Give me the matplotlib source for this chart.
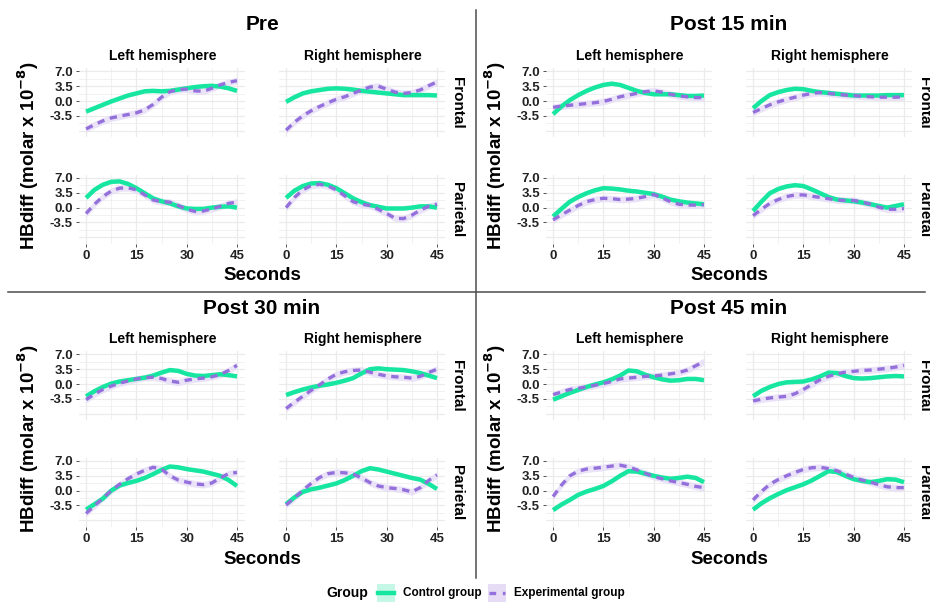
import numpy as np
import matplotlib.pyplot as plt
from matplotlib.lines import Line2D
from matplotlib.patches import Rectangle

plt.rcParams['font.family'] = ['Liberation Sans', 'DejaVu Sans']
plt.rcParams['font.weight'] = 'bold'

# Smoothed HBdiff traces, read every 2.5 s
seconds = [0, 2.5, 5, 7.5, 10, 12.5, 15, 17.5, 20, 22.5,
           25, 27.5, 30, 32.5, 35, 37.5, 40, 42.5, 45]
sessions = ['Pre', 'Post 15 min', 'Post 30 min', 'Post 45 min']
hemispheres = ['Left hemisphere', 'Right hemisphere']
regions = ['Frontal', 'Parietal']
y_ticks = [-3.5, 0.0, 3.5, 7.0]
x_ticks = [0, 15, 30, 45]

# each session: left frontal, right frontal, left parietal, right parietal
pre_control = [
    [-2.5, -1.7, -0.9, -0.1, 0.6, 1.3, 1.8, 2.3, 2.4, 2.3, 2.4, 2.7, 3.0, 3.3, 3.5, 3.6, 3.4, 3.0, 2.4],
    [-0.2, 0.9, 1.8, 2.3, 2.6, 2.9, 3.0, 2.9, 2.7, 2.4, 2.2, 2.0, 1.8, 1.6, 1.4, 1.4, 1.4, 1.4, 1.3],
    [2.3, 4.2, 5.4, 6.1, 6.2, 5.6, 4.6, 3.4, 2.2, 1.5, 1.0, 0.3, -0.2, -0.3, -0.3, 0.0, 0.2, 0.3, 0.0],
    [2.3, 4.0, 5.1, 5.7, 5.8, 5.4, 4.6, 3.4, 2.2, 1.3, 0.6, 0.2, -0.2, -0.2, -0.2, 0.0, 0.3, 0.3, 0.0],
]
pre_experimental = [
    [-6.6, -5.6, -4.7, -4.0, -3.6, -3.2, -2.8, -2.1, -0.8, 0.9, 2.2, 2.7, 2.8, 2.4, 2.3, 3.0, 3.8, 4.4, 4.8],
    [-6.9, -5.0, -3.5, -2.3, -1.3, -0.4, 0.4, 1.0, 1.8, 2.6, 3.3, 3.5, 2.8, 2.1, 1.8, 2.0, 2.6, 3.6, 4.5],
    [-1.4, 0.8, 2.6, 3.9, 4.6, 4.7, 4.2, 3.0, 1.8, 1.4, 1.3, 0.5, -0.4, -0.9, -0.8, -0.3, 0.3, 1.0, 1.3],
    [0.0, 2.4, 4.2, 5.2, 5.5, 5.1, 4.2, 2.8, 1.4, 0.8, 0.5, -0.4, -1.4, -2.5, -2.6, -1.8, -0.6, 0.3, 0.8],
]
post15_control = [
    [-3.1, -1.3, 0.2, 1.4, 2.4, 3.2, 3.8, 4.1, 3.8, 3.1, 2.4, 1.9, 1.6, 1.6, 1.6, 1.4, 1.2, 1.2, 1.3],
    [-1.7, 0.0, 1.4, 2.1, 2.6, 2.9, 2.8, 2.4, 2.1, 1.9, 1.7, 1.5, 1.3, 1.3, 1.3, 1.3, 1.4, 1.4, 1.4],
    [-2.1, -0.3, 1.4, 2.5, 3.4, 4.1, 4.6, 4.5, 4.3, 4.0, 3.8, 3.5, 3.2, 2.6, 1.9, 1.5, 1.2, 1.0, 0.8],
    [-0.8, 1.4, 3.4, 4.4, 5.0, 5.3, 5.1, 4.3, 3.4, 2.5, 1.9, 1.7, 1.5, 1.2, 0.8, 0.4, 0.0, 0.4, 0.8],
]
post15_experimental = [
    [-1.5, -1.2, -1.0, -0.8, -0.6, -0.4, -0.1, 0.4, 1.0, 1.4, 1.8, 2.2, 2.4, 2.1, 1.6, 1.2, 1.0, 0.8, 0.8],
    [-2.7, -1.8, -0.9, -0.2, 0.4, 0.9, 1.4, 1.8, 2.0, 1.8, 1.6, 1.4, 1.3, 1.1, 1.0, 0.9, 0.9, 0.9, 1.0],
    [-2.9, -1.7, -0.6, 0.5, 1.4, 1.9, 2.2, 2.1, 1.9, 2.0, 2.2, 2.6, 3.1, 2.3, 1.4, 0.8, 0.6, 0.6, 0.7],
    [-1.9, -0.4, 1.0, 1.9, 2.6, 3.0, 3.0, 2.7, 2.4, 2.1, 1.8, 1.7, 1.7, 1.3, 0.8, 0.1, -0.4, -0.4, -0.2],
]
post30_control = [
    [-2.9, -1.7, -0.7, 0.1, 0.6, 0.9, 1.2, 1.5, 2.0, 2.7, 3.3, 3.1, 2.4, 2.0, 1.9, 2.1, 2.3, 2.1, 1.8],
    [-2.6, -1.9, -1.3, -0.8, -0.4, -0.1, 0.3, 0.8, 1.4, 2.5, 3.5, 3.7, 3.5, 3.4, 3.3, 3.0, 2.6, 2.0, 1.4],
    [-4.5, -3.2, -1.9, 0.0, 1.2, 1.8, 2.3, 3.0, 3.9, 4.9, 5.7, 5.5, 5.1, 4.8, 4.5, 4.0, 3.5, 2.5, 1.1],
    [-3.2, -1.6, -0.3, 0.3, 0.7, 1.2, 1.7, 2.5, 3.5, 4.6, 5.3, 5.0, 4.5, 4.0, 3.5, 3.0, 2.6, 1.6, 0.4],
]
post30_experimental = [
    [-3.7, -2.4, -1.3, -0.5, 0.2, 0.7, 1.2, 1.5, 1.6, 1.3, 0.7, 0.4, 0.9, 1.2, 1.4, 1.7, 2.2, 3.2, 4.4],
    [-5.8, -4.3, -2.9, -1.5, -0.2, 1.2, 2.3, 2.9, 3.2, 3.3, 2.8, 2.3, 1.9, 1.7, 1.6, 1.4, 1.8, 2.7, 3.5],
    [-5.4, -3.6, -1.8, 0.0, 1.5, 2.8, 3.9, 4.8, 5.5, 5.1, 3.5, 2.5, 2.0, 1.6, 1.4, 1.8, 3.0, 4.0, 4.3],
    [-3.4, -1.7, 0.1, 1.7, 3.1, 4.0, 4.3, 4.2, 3.9, 3.0, 1.9, 1.1, 0.7, 0.5, 0.2, -0.3, 0.7, 2.4, 3.7],
]
post45_control = [
    [-3.7, -2.9, -2.1, -1.4, -0.7, -0.1, 0.4, 1.1, 2.0, 3.2, 3.0, 2.2, 1.6, 1.1, 0.8, 0.9, 1.2, 1.2, 0.9],
    [-2.9, -1.6, -0.7, 0.0, 0.4, 0.5, 0.6, 1.1, 1.8, 2.7, 2.6, 1.9, 1.4, 1.3, 1.4, 1.6, 1.8, 1.9, 1.8],
    [-4.6, -3.3, -2.2, -1.0, -0.2, 0.4, 1.1, 2.2, 3.5, 4.6, 4.5, 4.0, 3.5, 3.1, 2.8, 3.0, 3.3, 3.0, 2.0],
    [-4.5, -3.0, -1.8, -0.8, 0.1, 0.8, 1.5, 2.4, 3.5, 4.6, 4.4, 3.5, 2.7, 2.3, 2.0, 2.3, 2.7, 2.6, 2.0],
]
post45_experimental = [
    [-2.5, -1.9, -1.3, -1.0, -0.7, -0.3, 0.1, 0.6, 1.2, 1.4, 1.6, 1.8, 1.9, 2.1, 2.4, 2.7, 3.3, 4.3, 5.3],
    [-4.0, -3.6, -3.3, -3.1, -2.9, -2.3, -1.3, -0.1, 1.0, 1.8, 2.4, 2.8, 3.0, 3.2, 3.3, 3.5, 3.7, 4.0, 4.4],
    [-1.4, 1.3, 3.5, 4.6, 5.1, 5.3, 5.5, 5.8, 6.0, 5.6, 4.9, 4.1, 3.3, 2.8, 2.3, 1.9, 1.5, 1.0, 0.7],
    [-2.2, -0.2, 1.5, 2.6, 3.5, 4.3, 5.0, 5.4, 5.5, 5.2, 4.7, 3.9, 3.1, 2.5, 2.0, 1.4, 0.9, 0.7, 0.7],
]
control_runs = [pre_control, post15_control, post30_control, post45_control]
experimental_runs = [pre_experimental, post15_experimental,
                     post30_experimental, post45_experimental]

# half-width of the confidence band around each smooth
ci_control = 0.45
ci_experimental = 0.8

GREEN = '#17e6a1'
GREEN_FILL = '#c4f7e6'
PURPLE = '#9370db'
PURPLE_FILL = '#e6dcf6'
GRID = '#ebebeb'

W, H = 930, 604
fig = plt.figure(figsize=(W / 100, H / 100), dpi=100)


def fx(x):
    return x / W


def fy(y):
    return 1 - y / H


def px_axes(left, top, width, height):
    return fig.add_axes([fx(left), fy(top + height), width / W, height / H])


offsets = [(0, 0), (467, 0), (0, 283), (467, 283)]
panel_left = [78.5, 278.5]
panel_top = [68, 174.6]
panel_w, panel_h = 166, 69.4

for q, (dx, dy) in enumerate(offsets):
    for k in range(4):
        row, col = k // 2, k % 2
        ax = px_axes(dx + panel_left[col], dy + panel_top[row], panel_w, panel_h)
        ax.set_xlim(-2.25, 47.25)
        ax.set_ylim(-8.6, 7.8)
        for v in np.arange(-7, 7.01, 1.75):
            major = v in y_ticks or v == -7
            ax.axhline(v, color=GRID, lw=0.9 if major else 0.5, zorder=0)
        for v in np.arange(0, 45.1, 7.5):
            ax.axvline(v, color=GRID, lw=0.9 if v in x_ticks else 0.5, zorder=0)
        for s in ax.spines.values():
            s.set_visible(False)

        ctrl = np.array(control_runs[q][k])
        expt = np.array(experimental_runs[q][k])
        ax.fill_between(seconds, ctrl - ci_control, ctrl + ci_control,
                        color=GREEN_FILL, alpha=0.8, lw=0, zorder=1)
        ax.fill_between(seconds, expt - ci_experimental, expt + ci_experimental,
                        color=PURPLE_FILL, alpha=0.8, lw=0, zorder=1)
        ax.plot(seconds, ctrl, color=GREEN, lw=3.2, solid_capstyle='butt',
                solid_joinstyle='round', zorder=3)
        ax.plot(seconds, expt, color=PURPLE, lw=2.4, dashes=(2.2, 1.7),
                dash_joinstyle='round', zorder=4)

        ax.set_xticks(x_ticks)
        ax.set_yticks(y_ticks)
        ax.tick_params(colors='#333333', length=2.5, width=0.6, pad=1.5,
                       labelsize=9.5, labelcolor='#222222')
        if col == 0:
            ax.set_yticklabels(['%.1f' % v for v in y_ticks])
        else:
            ax.tick_params(axis='y', length=0, labelleft=False)
        if row == 1:
            ax.set_xticklabels([str(v) for v in x_ticks])
        else:
            ax.tick_params(axis='x', length=0, labelbottom=False)

    fig.text(fx(dx + 262), fy(dy + 25), sessions[q], fontsize=15,
             ha='center', va='center')
    for col, name in enumerate(hemispheres):
        fig.text(fx(dx + panel_left[col] + panel_w / 2 + 1), fy(dy + 56), name,
                 fontsize=10, ha='center', va='center')
    for row, name in enumerate(regions):
        fig.text(fx(dx + 457), fy(dy + panel_top[row] + panel_h / 2), name,
                 fontsize=11, rotation=-90, ha='center', va='center')
    fig.text(fx(dx + 262), fy(dy + 276), 'Seconds', fontsize=13.5,
             ha='center', va='center')
    fig.text(fx(dx + 28), fy(dy + 156), r'HBdiff (molar x 10$^{\mathbf{-8}}$)',
             fontsize=13.5, rotation=90, ha='center', va='center')

# frame dividing the four sessions
fig.add_artist(Line2D([fx(476), fx(476)], [fy(10), fy(578)], color='#4d4d4d', lw=1.1))
fig.add_artist(Line2D([fx(8), fx(925)], [fy(292), fy(292)], color='#4d4d4d', lw=1.1))

# legend
fig.text(fx(347), fy(593), 'Group', fontsize=10, ha='center', va='center')
for x0, line_col, fill_col, dashed, label in [
        (377, GREEN, GREEN_FILL, False, 'Control group'),
        (488, PURPLE, PURPLE_FILL, True, 'Experimental group')]:
    fig.add_artist(Rectangle((fx(x0), fy(602)), 18 / W, 18 / H,
                             facecolor=fill_col, edgecolor='none'))
    key = Line2D([fx(x0 + 1), fx(x0 + 17)], [fy(593), fy(593)], color=line_col,
                 lw=3.2 if not dashed else 2.4)
    if dashed:
        key.set_dashes((2.0, 2.0))
    fig.add_artist(key)
    fig.text(fx(x0 + 26), fy(593), label, fontsize=8.5, ha='left', va='center')

fig.savefig('out.png', dpi=100, facecolor='white')
